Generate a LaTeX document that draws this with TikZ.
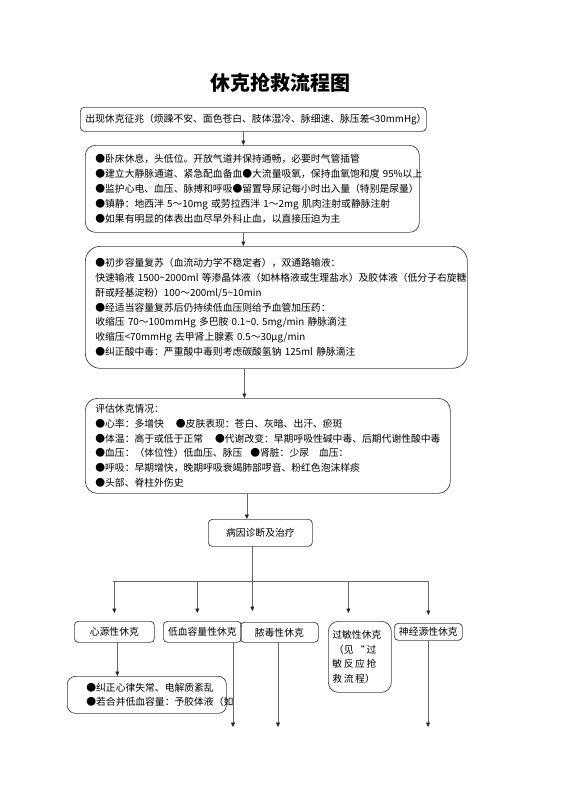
\documentclass[tikz,border=0pt]{standalone}
\usepackage{fontspec}
\setmainfont{Noto Sans CJK SC}
\usetikzlibrary{arrows.meta}

\tikzset{
  box/.style={
    draw=black!75,
    line width=0.7pt,
    rounded corners=4pt,
    inner ysep=0pt,
    font=\fontsize{9.8}{14.8}\selectfont},
  textbox/.style={box, anchor=north west, align=left, inner xsep=10pt},
  kind/.style={box, anchor=north west, inner xsep=1pt},
  link/.style={draw=black!60, line width=0.6pt},
  arrow/.style={link, -{Triangle[length=4.5pt,width=4pt,color=black!85]}},
}

\begin{document}
\begin{tikzpicture}[x=1pt, y=-1pt]
\useasboundingbox (0,0) rectangle (560,792);

\node[font=\fontsize{20}{24}\selectfont\bfseries] (title) at (280,83) {休克抢救流程图};

\node[textbox, inner xsep=5pt, text width=336pt, minimum height=24pt] (signs) at (80,107)
  {出现休克征兆（烦躁不安、面色苍白、肢体湿冷、脉细速、脉压差<30mmHg）};

\node[textbox, text width=314pt, minimum height=87pt, rounded corners=10pt] (firstaid) at (85,145)
  {●卧床休息，头低位。开放气道并保持通畅，必要时气管插管\\
   ●建立大静脉通道、紧急配血备血●大流量吸氧，保持血氧饱和度~95\%以上\\
   ●监护心电、血压、脉搏和呼吸●留置导尿记每小时出入量（特别是尿量）\\
   ●镇静：地西泮~5～10mg~或劳拉西泮~1～2mg~肌肉注射或静脉注射\\
   ●如果有明显的体表出血尽早外科止血，以直接压迫为主};

\node[textbox, text width=362pt, minimum height=122pt, rounded corners=15pt] (fluids) at (85,246)
  {●初步容量复苏（血流动力学不稳定者），双通路输液：\\
   快速输液~1500\textasciitilde2000ml~等渗晶体液（如林格液或生理盐水）及胶体液（低分子右旋糖\\
   酐或羟基淀粉）100～200ml/5\textasciitilde10min\\
   ●经适当容量复苏后仍持续低血压则给予血管加压药：\\
   收缩压~70～100mmHg~多巴胺~0.1\textasciitilde0.~5mg/min~静脉滴注\\
   收缩压<70mmHg~去甲肾上腺素~0.5～30μg/min\\
   ●纠正酸中毒：严重酸中毒则考虑碳酸氢钠~125ml~静脉滴注};

\node[textbox, text width=345pt, minimum height=95pt, rounded corners=12pt] (assess) at (85,398)
  {评估休克情况：\\
   ●心率：多增快\hspace{12pt}●皮肤表现：苍白、灰暗、出汗、瘀斑\\
   ●体温：高于或低于正常\hspace{12pt}●代谢改变：早期呼吸性碱中毒、后期代谢性酸中毒\\
   ●血压：（体位性）低血压、脉压\hspace{8pt}●肾脏：少尿\hspace{10pt}血压：\\
   ●呼吸：早期增快，晚期呼吸衰竭肺部啰音、粉红色泡沫样痰\\
   ●头部、脊柱外伤史};

\node[kind, minimum width=104pt, minimum height=27pt] (cause) at (208,519) {病因诊断及治疗};

% kinds of shock
\node[kind, minimum width=80pt, minimum height=21pt] (cardio) at (74,621) {心源性休克};
\node[kind, minimum width=78pt, minimum height=21pt] (hypo) at (163,621) {低血容量性休克};
\node[kind, minimum width=78pt, minimum height=20pt] (septic) at (240,622) {脓毒性休克};
\node[kind, text width=55pt, inner xsep=4pt, align=left, minimum height=71pt, rounded corners=10pt] (allergic) at (328,621)
  {过敏性休克\\
   \,（见\,“\,过\\
   敏\,反\,应\,抢\\
   救\,流\,程）};
\node[kind, minimum width=68pt, minimum height=17pt] (neuro) at (394,623) {神经源性休克};

\node[kind, text width=157pt, align=left, minimum height=37pt, rounded corners=8pt] (cardiocare) at (67,676)
  {\hspace*{18pt}●纠正心律失常、电解质紊乱\\
   \hspace*{18pt}●若合并低血容量：予胶体液（如};

% main chain
\draw[arrow] ([xshift=-10pt]signs.south) -- ([xshift=-10pt]signs.south |- firstaid.north);
\draw[arrow] ([xshift=-9pt]firstaid.south) -- ([xshift=-9pt]firstaid.south |- fluids.north);
\draw[arrow] ([xshift=-32pt]fluids.south) -- ([xshift=-32pt]fluids.south |- assess.north);
\draw[arrow] ([xshift=-21pt]assess.south) -- ([xshift=-21pt]assess.south |- cause.north);

% branching
\coordinate (busL) at (113,581);
\coordinate (busR) at (428,581);
\draw[link] (busL) -- (busR);
\draw[arrow, shorten >=11pt] ([xshift=-8pt]cause.south) -- ([xshift=-8pt]cause.south |- septic.north);
\draw[arrow, shorten >=8pt] (cardio.north |- busL) -- (cardio.north);
\draw[arrow, shorten >=8pt] ([xshift=-5pt]hypo.north |- busL) -- ([xshift=-5pt]hypo.north);
\draw[arrow, shorten >=8pt] ([xshift=-11.5pt]allergic.north |- busL) -- ([xshift=-11.5pt]allergic.north);
\draw[arrow, shorten >=8pt] (neuro.north |- busL) -- (neuro.north);

\draw[arrow] ([xshift=3pt]cardio.south) -- ([xshift=3pt]cardio.south |- cardiocare.north);

\coordinate (hypoEnd) at (233,727);
\coordinate (septicEnd) at (278,727);
\coordinate (neuroEnd) at (428,727);
\draw[arrow] (hypoEnd |- hypo.south) -- (hypoEnd);
\draw[arrow] (septicEnd |- septic.south) -- (septicEnd);
\draw[arrow] (neuroEnd |- neuro.south) -- (neuroEnd);
\end{tikzpicture}
\end{document}
